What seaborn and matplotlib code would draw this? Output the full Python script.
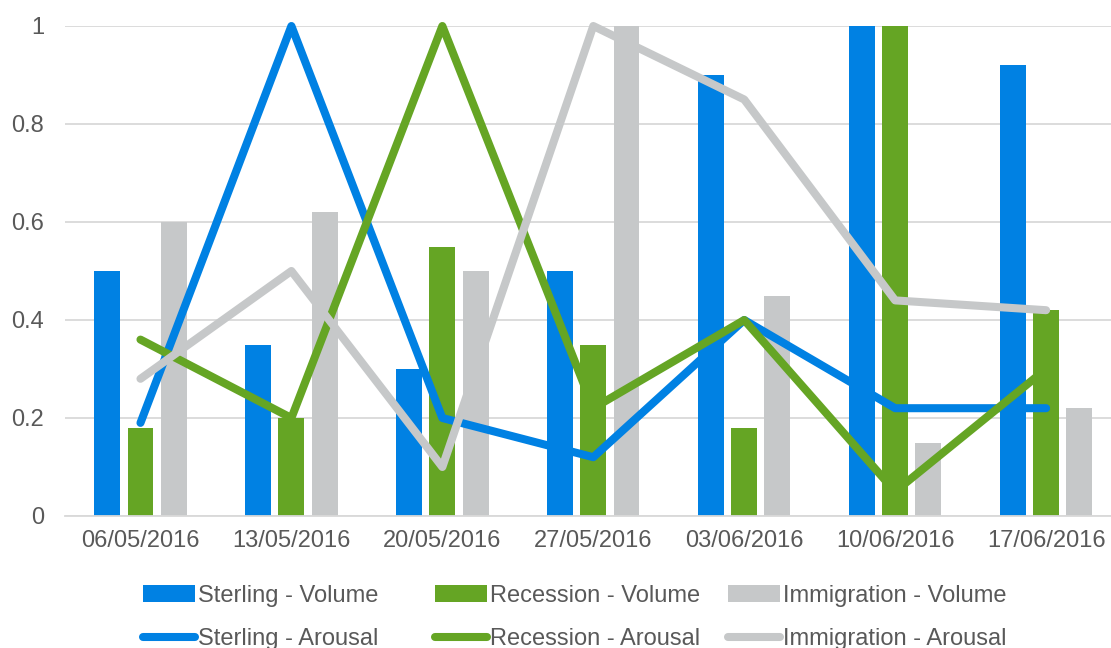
import numpy as np
import pandas as pd
import seaborn as sns
import matplotlib.pyplot as plt
from matplotlib.patches import Patch
from matplotlib.lines import Line2D

dates = ['06/05/2016', '13/05/2016', '20/05/2016', '27/05/2016',
         '03/06/2016', '10/06/2016', '17/06/2016']
topics = ['Sterling', 'Recession', 'Immigration']

# volume (bars)
sterling_vol = [0.50, 0.35, 0.30, 0.50, 0.90, 1.00, 0.92]
recession_vol = [0.18, 0.20, 0.55, 0.35, 0.18, 1.00, 0.42]
immigration_vol = [0.60, 0.62, 0.50, 1.00, 0.45, 0.15, 0.22]

# arousal (lines)
sterling_aro = [0.19, 1.00, 0.20, 0.12, 0.40, 0.22, 0.22]
recession_aro = [0.36, 0.20, 1.00, 0.22, 0.40, 0.05, 0.30]
immigration_aro = [0.28, 0.50, 0.10, 1.00, 0.85, 0.44, 0.42]

colors = {'Sterling': '#0081E3', 'Recession': '#65A524', 'Immigration': '#C6C8C9'}

vol = pd.DataFrame({
    'date': dates * 3,
    'topic': np.repeat(topics, len(dates)),
    'value': sterling_vol + recession_vol + immigration_vol,
})
aro = pd.DataFrame({
    'date': dates * 3,
    'topic': np.repeat(topics, len(dates)),
    'value': sterling_aro + recession_aro + immigration_aro,
})

sns.set_style('white')
plt.rcParams['font.family'] = ['Liberation Sans', 'DejaVu Sans']

fig = plt.figure(figsize=(11.11, 6.48), dpi=100)
ax = fig.add_axes([65 / 1111, 1 - 516 / 648, 1 - 65 / 1111, 490 / 648])

sns.barplot(data=vol, x='date', y='value', hue='topic', order=dates,
            hue_order=topics, palette=colors, saturation=1, width=0.66,
            gap=0.22, linewidth=0, errorbar=None, legend=False, ax=ax)
for bar in ax.patches:
    bar.set_clip_on(False)

sns.pointplot(data=aro, x='date', y='value', hue='topic', order=dates,
              hue_order=topics, palette=colors, markers='', errorbar=None,
              dodge=False, legend=False, ax=ax, lw=5.8,
              solid_capstyle='round', solid_joinstyle='round')
for ln in ax.lines:
    ln.set_clip_on(False)
    ln.set_zorder(3)

ax.set_xlim(-0.5, 6.43)
ax.set_ylim(0, 1)
ax.set_yticks([0, 0.2, 0.4, 0.6, 0.8, 1.0])
ax.set_yticklabels(['0', '0.2', '0.4', '0.6', '0.8', '1'])
ax.grid(axis='y', color='#D9D9D9', lw=1.3)
ax.set_axisbelow(True)
ax.set_xlabel('')
ax.set_ylabel('')
for s in ['top', 'right', 'left']:
    ax.spines[s].set_visible(False)
ax.spines['bottom'].set_color('#D9D9D9')
ax.spines['bottom'].set_linewidth(1.3)
ax.tick_params(axis='both', length=0, labelsize=17, labelcolor='#595959')
ax.tick_params(axis='y', pad=15)
ax.tick_params(axis='x', pad=10)

# legend: three columns, bars on top row, lines below
col_x = [143, 435, 728]
for t, x in zip(topics, col_x):
    handles = [Patch(facecolor=colors[t], edgecolor='none'),
               Line2D([], [], color=colors[t], lw=5.8, solid_capstyle='round')]
    labels = [t + ' - Volume', t + ' - Arousal']
    leg = fig.legend(handles, labels, loc='center left',
                     bbox_to_anchor=(x / 1111, 1 - 617.5 / 648),
                     frameon=False, fontsize=17, handlelength=2.2,
                     handletextpad=0.12, labelspacing=0.9, borderpad=0,
                     borderaxespad=0, labelcolor='#595959')

fig.savefig('out.png', dpi=100)
